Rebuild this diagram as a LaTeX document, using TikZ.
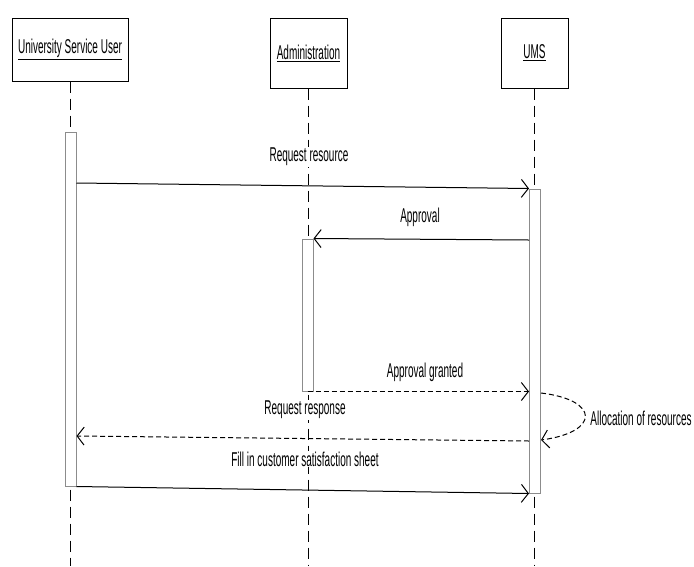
\documentclass[tikz,border=0pt]{standalone}
\usepackage{fontspec}
\newfontfamily\narrowsans[FakeStretch=0.5]{Liberation Sans}
\usetikzlibrary{arrows.meta}

\begin{document}
\begin{tikzpicture}[x=1pt,y=-1pt,
	>={Straight Barb[length=7pt,width=18pt]},
	actor/.style={
		draw, % boxes at the top
		line width=1pt,
		anchor=center,
		inner sep=0pt,
		font=\narrowsans\fontsize{20}{22}\selectfont,
	},
	lifeline/.style={line width=1pt,dash pattern=on 11pt off 6pt},
	bar/.style={draw=black!45,fill=white,line width=1pt,inner sep=0pt,minimum width=11pt},
	msg/.style={->,line width=1pt},
	reply/.style={msg,dash pattern=on 5pt off 3pt},
	lbl/.style={fill=white,inner sep=1pt,font=\narrowsans\fontsize{20}{22}\selectfont},
	]
	\useasboundingbox (0,0) rectangle (694,566);

	\node[actor,minimum width=116pt,minimum height=63pt] (user) at (70,49.5)
		{\underline{University Service User}};
	\node[actor,minimum width=77pt,minimum height=70pt] (admin) at (308.5,53)
		{\underline{Administration}};
	\node[actor,minimum width=67pt,minimum height=70pt] (ums) at (534.5,53)
		{\underline{UMS}};

	\foreach \a in {user,admin,ums}{
		\coordinate (\a-end) at (\a.south |- 0,566);
		\draw[lifeline] (\a.south) -- (\a-end);
	}

	\node[bar,minimum height=354pt] (userbar) at (70.5,309) {};
	\node[bar,minimum height=304pt] (umsbar) at (535,341) {};
	\node[bar,minimum height=152pt] (adminbar) at (307.5,315) {};

	\draw[msg] (userbar.east |- 0,183) -- (umsbar.north west);
	\node[lbl] (reqres) at (309,157) {Request resource};

	\draw[msg] (umsbar.west |- 0,240) -- (adminbar.north east);
	\node[lbl] (appr) at (420,217) {Approval};

	\draw[reply] (adminbar.south) -- (umsbar.west |- adminbar.south);
	\node[lbl] (apprgr) at (425,372) {Approval granted};

	\draw[reply] (umsbar.east |- 0,393) .. controls (600,400) and (600,432) .. (umsbar.east |- 0,440);
	\node[lbl] (alloc) at (641,418) {Allocation of resources};

	\draw[reply] (umsbar.west |- 0,441) -- (userbar.east |- 0,436);
	\node[lbl] (reqresp) at (305,410) {Request response};

	\draw[msg] (userbar.south east) -- (umsbar.south west);
	\node[lbl] (fill) at (305,459) {Fill in customer satisfaction sheet};

\end{tikzpicture}
\end{document}
